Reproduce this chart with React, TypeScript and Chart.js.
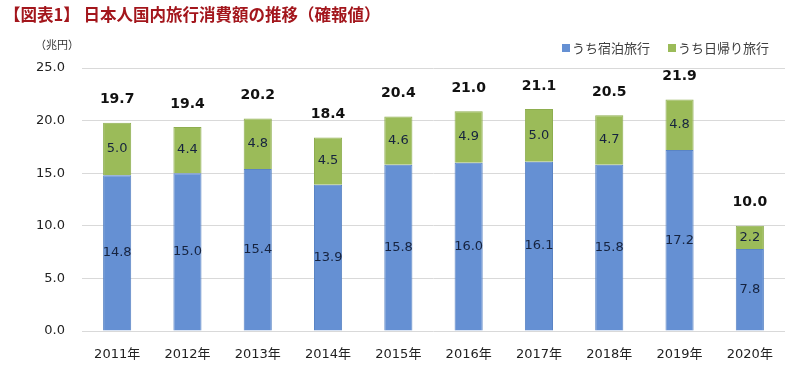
import React, { useEffect, useRef } from "react";
import { Chart, registerables } from "chart.js";

Chart.register(...registerables);

const years = ["2011年", "2012年", "2013年", "2014年", "2015年", "2016年", "2017年", "2018年", "2019年", "2020年"];
const stayTrips = [14.8, 15.0, 15.4, 13.9, 15.8, 16.0, 16.1, 15.8, 17.2, 7.8];
const dayTrips = [5.0, 4.4, 4.8, 4.5, 4.6, 4.9, 5.0, 4.7, 4.8, 2.2];
const totals = [19.7, 19.4, 20.2, 18.4, 20.4, 21.0, 21.1, 20.5, 21.9, 10.0];
const seriesNames = ["うち宿泊旅行", "うち日帰り旅行"];
const titleText = "【図表1】 日本人国内旅行消費額の推移（確報値）";
const unitText = "（兆円）";

const FONT = "'Noto Sans CJK JP', 'Noto Sans', sans-serif";
const NUMFONT = "'DejaVu Sans', 'Noto Sans CJK JP', sans-serif";
const BLUE = "#6590d3";
const GREEN = "#9bbb59";

const overlayPlugin = {
  id: "overlay",
  afterDatasetsDraw(chart: any) {
    const ctx = chart.ctx;
    ctx.save();
    chart.data.datasets.forEach((ds: any, di: number) => {
      const meta = chart.getDatasetMeta(di);
      meta.data.forEach((bar: any, i: number) => {
        const v = ds.data[i];
        ctx.fillStyle = "#16233f";
        ctx.font = `13px ${NUMFONT}`;
        ctx.textAlign = "center";
        ctx.textBaseline = "middle";
        ctx.fillText(v.toFixed(1), bar.x, (bar.y + bar.base) / 2);
      });
    });
    const meta1 = chart.getDatasetMeta(1);
    meta1.data.forEach((bar: any, i: number) => {
      ctx.fillStyle = "#111111";
      ctx.font = `bold 14px ${NUMFONT}`;
      ctx.textAlign = "center";
      ctx.textBaseline = "middle";
      ctx.fillText(totals[i].toFixed(1), bar.x, bar.y - 23);
    });
    ctx.restore();
  },
  afterDraw(chart: any) {
    const ctx = chart.ctx;
    ctx.save();
    ctx.fillStyle = "#a3161c";
    ctx.font = `bold 16.5px ${FONT}`;
    ctx.textAlign = "left";
    ctx.textBaseline = "middle";
    ctx.fillText(titleText, 4, 15);
    ctx.fillStyle = "#333333";
    ctx.font = `11px ${FONT}`;
    ctx.textAlign = "center";
    ctx.fillText(unitText, 57, 45);
    ctx.font = `13px ${FONT}`;
    ctx.textAlign = "left";
    const items = [
      { x: 562, color: BLUE, text: seriesNames[0] },
      { x: 668, color: GREEN, text: seriesNames[1] },
    ];
    items.forEach((it) => {
      ctx.fillStyle = it.color;
      ctx.fillRect(it.x, 44, 8, 8);
      ctx.fillStyle = "#404040";
      ctx.fillText(it.text, it.x + 10, 48);
    });
    ctx.restore();
  },
};

export default function App() {
  const ref = useRef<HTMLCanvasElement>(null);
  useEffect(() => {
    document.body.style.margin = "0";
    const chart = new Chart(ref.current as HTMLCanvasElement, {
      type: "bar",
      data: {
        labels: years,
        datasets: [
          {
            label: seriesNames[0],
            data: stayTrips,
            backgroundColor: BLUE,
            borderColor: "#5a84c4",
            borderWidth: 1,
            categoryPercentage: 0.8,
            barPercentage: 0.5,
          },
          {
            label: seriesNames[1],
            data: dayTrips,
            backgroundColor: GREEN,
            borderColor: "#8eae4f",
            borderWidth: 1,
            categoryPercentage: 0.8,
            barPercentage: 0.5,
          },
        ],
      },
      options: {
        animation: false,
        responsive: false,
        layout: { padding: { top: 68, left: 0, right: 15, bottom: 8 } },
        plugins: { legend: { display: false }, title: { display: false }, tooltip: { enabled: false } },
        scales: {
          x: {
            stacked: true,
            grid: { display: false },
            border: { display: false },
            ticks: { color: "#222222", font: { family: NUMFONT, size: 13 }, padding: 8 },
            afterFit(scale: any) {
              scale.height = 30;
            },
          },
          y: {
            stacked: true,
            min: 0,
            max: 25,
            grid: { color: "#d9d9d9", drawTicks: false, lineWidth: 1 },
            border: { display: false },
            ticks: {
              stepSize: 5,
              color: "#222222",
              font: { family: NUMFONT, size: 13 },
              padding: 17,
              callback: (v: any) => Number(v).toFixed(1),
            },
            afterFit(scale: any) {
              scale.width = 82;
            },
          },
        },
      },
      plugins: [overlayPlugin],
    });
    return () => chart.destroy();
  }, []);
  return <canvas ref={ref} width={800} height={369} style={{ display: "block" }} />;
}
